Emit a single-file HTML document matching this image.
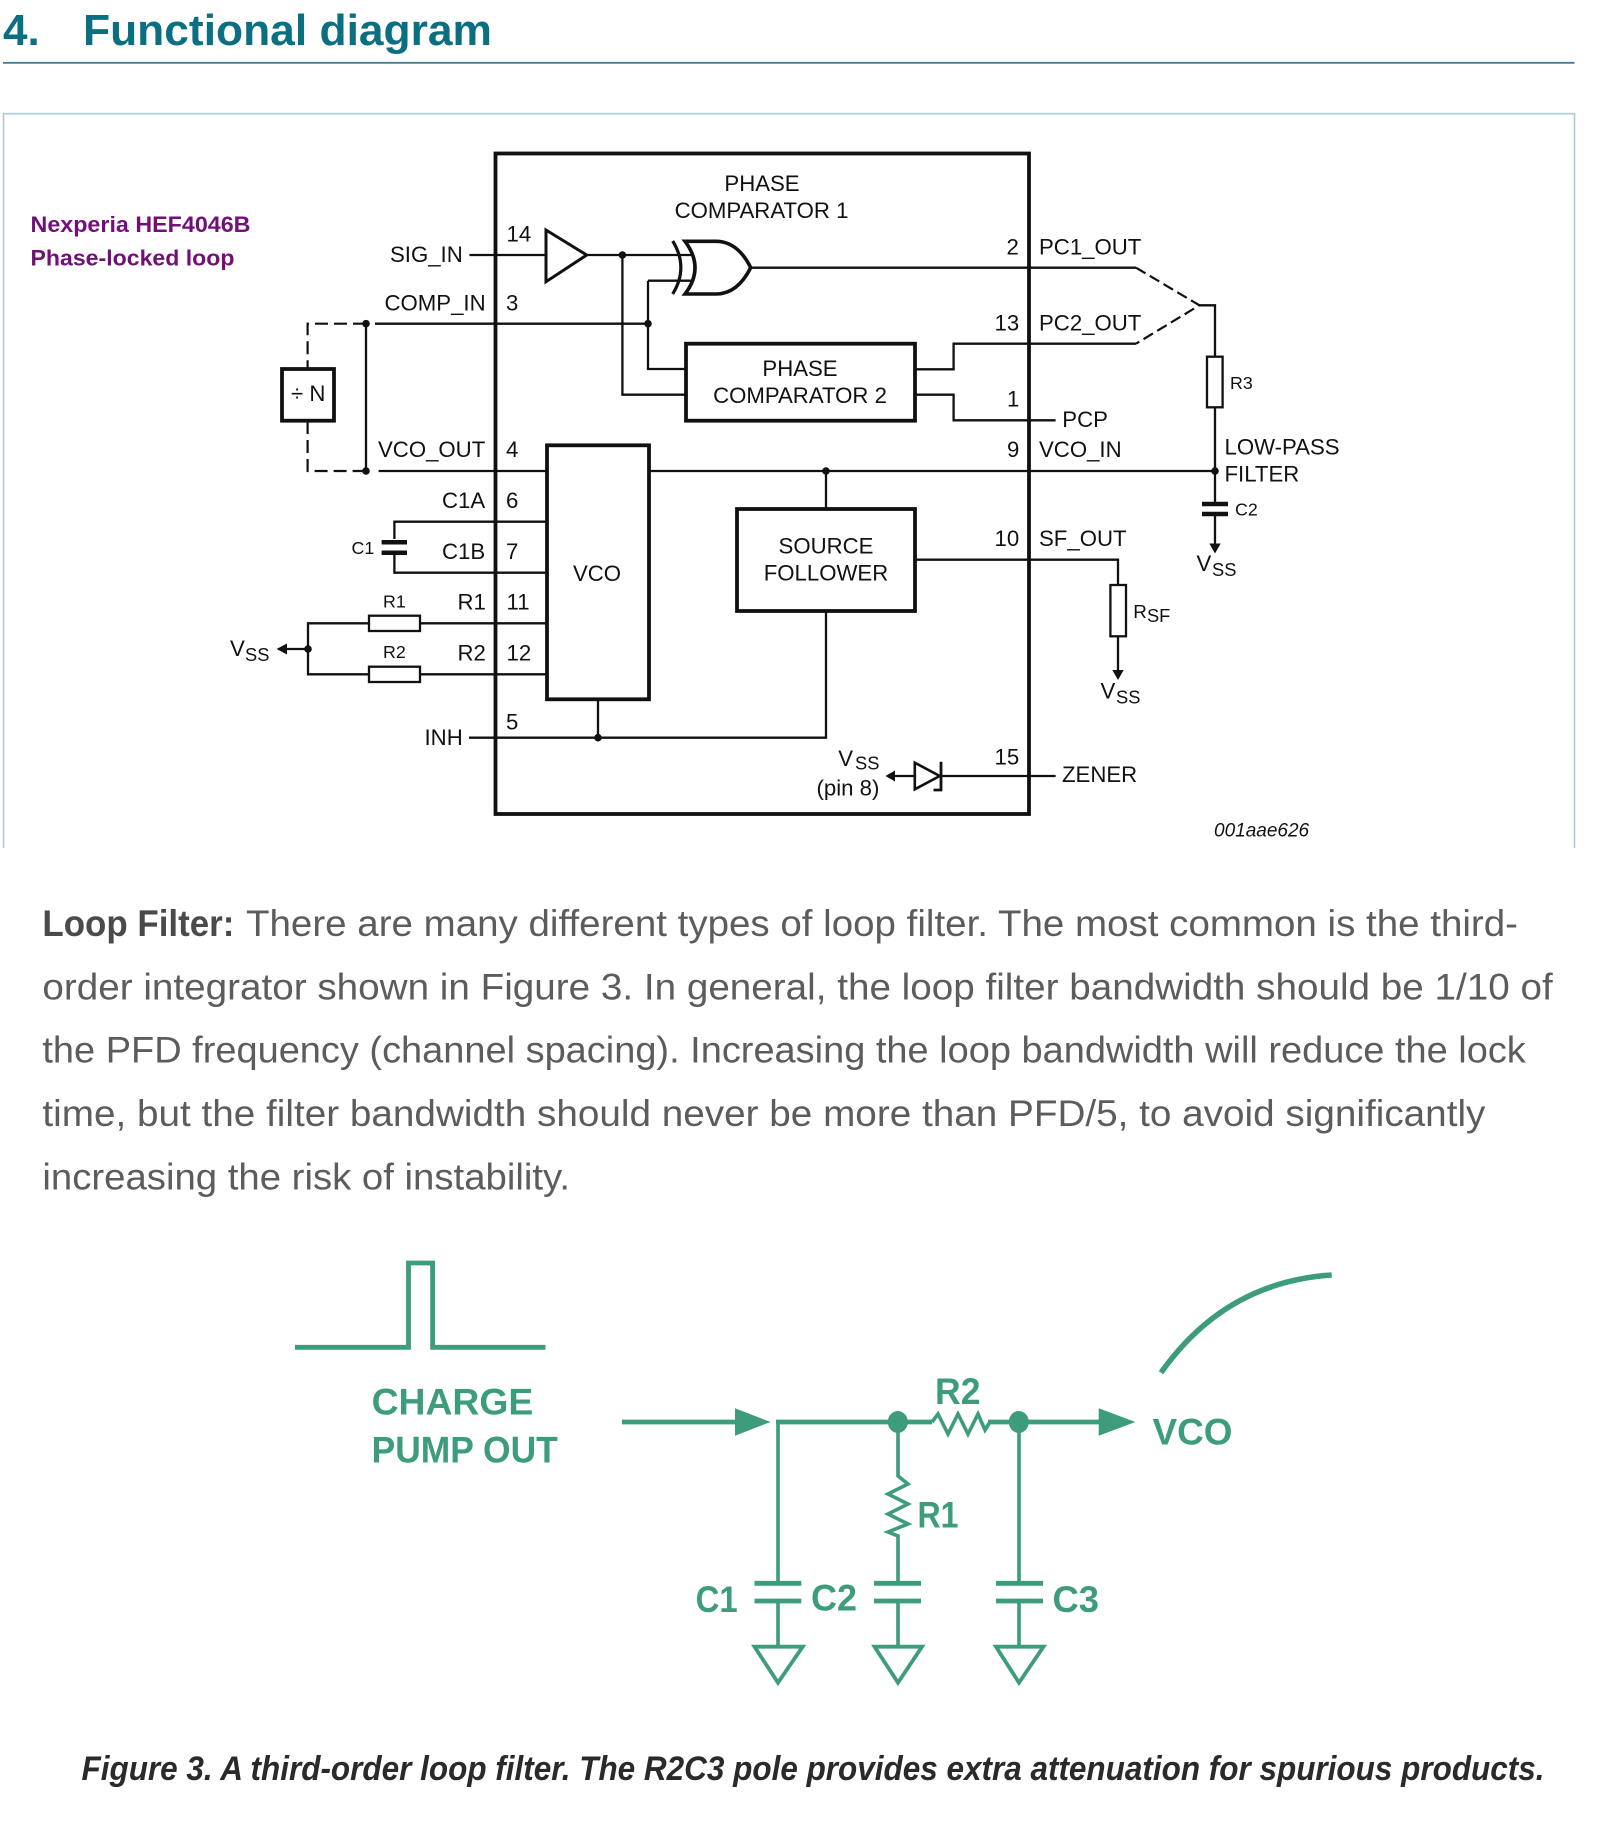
<!DOCTYPE html>
<html><head><meta charset="utf-8"><title>Functional diagram</title>
<style>
html,body{margin:0;padding:0;background:#fff;width:1611px;height:1824px;overflow:hidden}
svg{display:block}
text{font-family:"Liberation Sans",Arial,sans-serif;fill:#111;font-size:22.2px}
.s{font-size:17.8px}
.p{font-size:37px;fill:#5c5c5c}
.g{font-size:37px;font-weight:bold;fill:#3d9c7b}
.w{fill:none;stroke:#111;stroke-width:2.3}
.b{fill:none;stroke:#111;stroke-width:3.8}
.bw{fill:#fff;stroke:#111;stroke-width:2.3}
.d{fill:none;stroke:#111;stroke-width:2.2;stroke-dasharray:13 6}
.gw{fill:none;stroke:#3d9c7b;stroke-width:3.6}
.gt{fill:none;stroke:#3d9c7b;stroke-width:4.8}
</style></head><body>
<svg xmlns="http://www.w3.org/2000/svg" width="1611" height="1824" viewBox="0 0 1611 1824">
<rect width="1611" height="1824" fill="#fff"/>

<!-- Heading -->
<text x="3" y="45" style="font-size:44px;font-weight:bold;fill:#0b6f82">4.</text>
<text x="83" y="45" textLength="409" lengthAdjust="spacingAndGlyphs" style="font-size:44px;font-weight:bold;fill:#0b6f82">Functional diagram</text>
<line x1="3" y1="62.8" x2="1574.5" y2="62.8" stroke="#3f8090" stroke-width="1.8"/>

<!-- Frame -->
<path d="M3.5 848V113.7H1574.5V848" fill="none" stroke="#aecbd3" stroke-width="1.6"/>

<text x="30.5" y="232" textLength="220" lengthAdjust="spacingAndGlyphs" style="font-size:22px;font-weight:bold;fill:#720f78">Nexperia HEF4046B</text>
<text x="30.5" y="265.7" textLength="204" lengthAdjust="spacingAndGlyphs" style="font-size:22px;font-weight:bold;fill:#720f78">Phase-locked loop</text>

<!-- Functional diagram wires -->
<path class="w" d="M469.4 255H546M587 255H691.5"/>
<path class="w" d="M622.4 255V394.7H686"/>
<path class="w" d="M375 323.7H648M648 280.7H692M648 280.7V369H686"/>
<path class="w" d="M366 323.7V471"/>
<path class="d" d="M366 323.7H307.6V368"/>
<path class="d" d="M307.6 421V471H366"/>
<path class="w" d="M378.6 471H547M649 471H1215"/>
<path class="w" d="M751 267.7H1136"/>
<path class="d" d="M1136 267.7L1199.4 305.3L1136 343.7" style="stroke-dasharray:11 5"/>
<path class="w" d="M915 369.3H953.6V343.7H1136"/>
<path class="w" d="M915 394.7H953.6V420.3H1055.6"/>
<path class="w" d="M1199.4 305.3H1215V356.7M1215 407.3V504M1215 514V546"/>
<path class="w" d="M394.4 539V521.7H547M394.4 553V572.7H547"/>
<path class="w" d="M308 649V623.3H547M308 649V674.3H547M308 649H284"/>
<path class="w" d="M469 737.7H826V611M598 699V737.7"/>
<path class="w" d="M826 471V509"/>
<path class="w" d="M915 559.7H1118V585M1118 636.3V672"/>
<path class="w" d="M941 776H1055.6M915 776H892"/>

<!-- Main boxes -->
<rect class="b" x="495.5" y="153.5" width="533.5" height="660.5"/>
<rect class="b" x="686" y="343.7" width="229" height="77"/>
<rect class="b" x="547" y="445.3" width="102" height="254" fill="#fff"/>
<rect class="b" x="737" y="509" width="178" height="102"/>
<rect class="b" x="282" y="369" width="52" height="51.7"/>

<!-- Buffer + XOR -->
<path class="b" style="stroke-width:3" d="M546 230V281.7L586.7 255Z"/>
<path class="b" style="stroke-width:3.2" d="M672.7 241Q689 267.5 672.7 294"/>
<path class="b" style="stroke-width:3.6" d="M685 241.3H716C733 241.3 744 254 750.7 267.7C744 281 733 294 716 294H685Q705 267.8 685 241.3Z"/>

<!-- Resistors -->
<rect class="bw" x="1207" y="356.7" width="15.6" height="50.6"/>
<rect class="bw" x="1110.4" y="585" width="15.6" height="51.3"/>
<rect class="bw" x="369" y="615.7" width="51" height="15.3"/>
<rect class="bw" x="369" y="666.7" width="51" height="15.3"/>

<!-- Capacitors -->
<path d="M381.6 542.3H407M381.6 552.7H407" stroke="#111" stroke-width="4.5" fill="none"/>
<path d="M1202 504H1228M1202 514H1228" stroke="#111" stroke-width="4.5" fill="none"/>

<!-- Dots -->
<g fill="#111">
<ellipse cx="622.4" cy="255" rx="3.8" ry="3.8"/>
<ellipse cx="648" cy="323.7" rx="3.8" ry="3.8"/>
<ellipse cx="366" cy="323.7" rx="3.8" ry="3.8"/>
<ellipse cx="366" cy="471" rx="3.8" ry="3.8"/>
<ellipse cx="826" cy="471" rx="3.8" ry="3.8"/>
<ellipse cx="1215" cy="471" rx="3.8" ry="3.8"/>
<ellipse cx="308" cy="649" rx="3.8" ry="3.8"/>
<ellipse cx="598" cy="737.7" rx="3.8" ry="3.8"/>
<!-- Arrowheads -->
<path d="M276.5 649L287 643.5V654.5Z"/>
<path d="M1215 553.5L1209.3 543.5H1220.7Z"/>
<path d="M1118 680L1112.3 670H1123.7Z"/>
<path d="M885.4 776L895 770.5V781.5Z"/>
</g>

<!-- Zener -->
<path class="w" style="stroke-width:2.6" d="M914.8 762.7V789.3L939.7 776Z"/>
<path class="w" style="stroke-width:2.8" d="M941 761.7V790H933.5"/>

<!-- Diagram labels -->
<text x="762" y="191.2" text-anchor="middle">PHASE</text>
<text x="761.5" y="217.8" text-anchor="middle">COMPARATOR 1</text>
<text x="800" y="376.2" text-anchor="middle">PHASE</text>
<text x="800" y="402.8" text-anchor="middle">COMPARATOR 2</text>
<text x="597" y="581.2" text-anchor="middle">VCO</text>
<text x="826" y="553.5" text-anchor="middle">SOURCE</text>
<text x="826" y="580.5" text-anchor="middle">FOLLOWER</text>
<text x="291" y="401.2">÷ N</text>

<text x="390" y="262.2">SIG_IN</text>
<text x="384.5" y="310.5">COMP_IN</text>
<text x="378" y="457.2">VCO_OUT</text>
<text x="442" y="507.8">C1A</text>
<text x="442" y="558.8">C1B</text>
<text x="457.5" y="609.5">R1</text>
<text x="457.5" y="660.5">R2</text>
<text x="424.5" y="745.2">INH</text>

<text x="506.5" y="241.5">14</text>
<text x="506" y="310.5">3</text>
<text x="506" y="457.2">4</text>
<text x="506" y="507.8">6</text>
<text x="506" y="558.8">7</text>
<text x="506.5" y="609.5">11</text>
<text x="506.5" y="660.5">12</text>
<text x="506" y="729.5">5</text>

<text x="1006.5" y="254.5">2</text>
<text x="994.5" y="330.5">13</text>
<text x="1007" y="406.5">1</text>
<text x="1007" y="457.2">9</text>
<text x="994.5" y="546.2">10</text>
<text x="994.5" y="764.5">15</text>

<text x="1039" y="254.5">PC1_OUT</text>
<text x="1039" y="330.5">PC2_OUT</text>
<text x="1062.3" y="427.2">PCP</text>
<text x="1039" y="457.2">VCO_IN</text>
<text x="1039" y="546.2">SF_OUT</text>
<text x="1062" y="782.2">ZENER</text>
<text x="1224.5" y="454.5">LOW-PASS</text>
<text x="1224.5" y="481.5">FILTER</text>

<text class="s" x="1230" y="388.8">R3</text>
<text class="s" x="1235" y="515.5">C2</text>
<text class="s" x="351.5" y="553.8">C1</text>
<text class="s" x="394.4" y="607.3" text-anchor="middle">R1</text>
<text class="s" x="394.4" y="658" text-anchor="middle">R2</text>
<text x="1133.2" y="618" style="font-size:18.8px">R</text><text x="1147" y="622" style="font-size:18.2px">SF</text>

<text x="230" y="656.2">V</text><text x="245" y="661" style="font-size:18.3px">SS</text>
<text x="1196.5" y="571.2">V</text><text x="1212" y="576" style="font-size:18.3px">SS</text>
<text x="1100.5" y="698.5">V</text><text x="1116" y="703.3" style="font-size:18.3px">SS</text>
<text x="838.3" y="766.2">V</text><text x="855" y="769.5" style="font-size:18.3px">SS</text>
<text x="816.5" y="795.5">(pin 8)</text>
<text x="1214" y="836.7" style="font-size:19px;font-style:italic">001aae626</text>

<!-- Paragraph -->
<text class="p" x="42.4" y="936" textLength="192" lengthAdjust="spacingAndGlyphs" style="font-weight:bold;fill:#4a4a4a">Loop Filter:</text>
<text class="p" x="246" y="936" textLength="1272" lengthAdjust="spacingAndGlyphs">There are many different types of loop filter. The most common is the third-</text>
<text class="p" x="42.4" y="999.3" textLength="1510.3" lengthAdjust="spacingAndGlyphs">order integrator shown in Figure 3. In general, the loop filter bandwidth should be 1/10 of</text>
<text class="p" x="42.4" y="1062.7" textLength="1483.4" lengthAdjust="spacingAndGlyphs">the PFD frequency (channel spacing). Increasing the loop bandwidth will reduce the lock</text>
<text class="p" x="42.4" y="1126" textLength="1443" lengthAdjust="spacingAndGlyphs">time, but the filter bandwidth should never be more than PFD/5, to avoid significantly</text>
<text class="p" x="42.4" y="1189.3" textLength="527.6" lengthAdjust="spacingAndGlyphs">increasing the risk of instability.</text>

<!-- Green loop filter -->
<path class="gt" d="M295 1347.3H408.5V1263H432.6V1347.3H545.5"/>
<path d="M1161 1372.7Q1225 1282 1331.7 1275" fill="none" stroke="#3d9c7b" stroke-width="5.5"/>
<text class="g" x="371.6" y="1414.7" textLength="161.7" lengthAdjust="spacingAndGlyphs">CHARGE</text>
<text class="g" x="371.6" y="1462.3" textLength="186.2" lengthAdjust="spacingAndGlyphs">PUMP OUT</text>

<path class="gt" d="M622 1422H740M776 1422H932M988 1422H1105"/>
<path class="gw" d="M932 1422L938 1414L948 1434L958 1414L968 1434L978 1414L985 1430L990 1422"/>
<g fill="#3d9c7b">
<path d="M735 1408.3V1435.7L770.6 1422Z"/>
<path d="M1098.7 1408.3V1435.7L1135.3 1422Z"/>
<ellipse cx="897.8" cy="1422" rx="10" ry="11"/>
<ellipse cx="1018.8" cy="1422" rx="10" ry="11"/>
</g>
<!-- stems -->
<path class="gw" d="M778 1422V1583M778 1601V1647"/>
<path class="gw" d="M898 1422V1476L908 1484L888 1494L908 1504L888 1514L908 1524L888 1532L898 1536V1583M898 1601V1647"/>
<path class="gw" d="M1019 1422V1583M1019 1601V1647"/>
<!-- plates -->
<path class="gt" d="M754.5 1583.3H801.3M754.5 1601H801.3M874 1583.3H921M874 1601H921M996 1583.3H1043M996 1601H1043"/>
<!-- grounds -->
<path class="gw" style="stroke-width:3.8" d="M754.5 1646.7H802.7L778 1682.7Z"/>
<path class="gw" style="stroke-width:3.8" d="M874.5 1646.7H922L898 1682.7Z"/>
<path class="gw" style="stroke-width:3.8" d="M996 1646.7H1043.5L1019 1682.7Z"/>

<text class="g" x="935" y="1404" textLength="45.5" lengthAdjust="spacingAndGlyphs">R2</text>
<text class="g" x="1152.5" y="1444.5" textLength="80" lengthAdjust="spacingAndGlyphs">VCO</text>
<text class="g" x="917.5" y="1527.5" textLength="41" lengthAdjust="spacingAndGlyphs">R1</text>
<text class="g" x="695.6" y="1612" textLength="42" lengthAdjust="spacingAndGlyphs">C1</text>
<text class="g" x="811" y="1610.5" textLength="46" lengthAdjust="spacingAndGlyphs">C2</text>
<text class="g" x="1052.5" y="1612" textLength="46.5" lengthAdjust="spacingAndGlyphs">C3</text>

<!-- Caption -->
<text x="81.5" y="1780" textLength="1463" lengthAdjust="spacingAndGlyphs" style="font-size:34px;font-style:italic;font-weight:bold;fill:#2a2a2a">Figure 3. A third-order loop filter. The R2C3 pole provides extra attenuation for spurious products.</text>
</svg>
</body></html>
